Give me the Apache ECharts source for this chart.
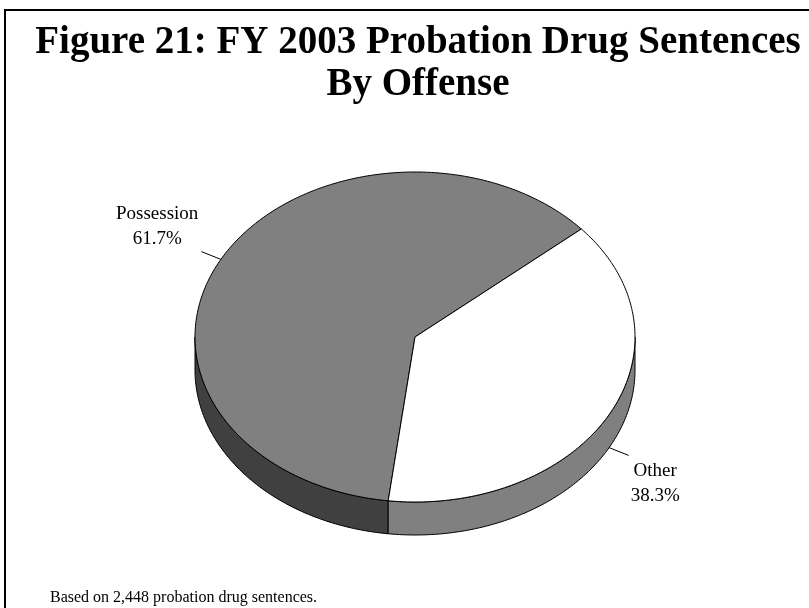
<!DOCTYPE html>
<html>
<head>
<meta charset="utf-8">
<script src="https://cdn.jsdelivr.net/npm/echarts@6/dist/echarts.min.js"></script>
<style>
  html, body { margin: 0; padding: 0; background: #fff; }
  #chart { width: 809px; height: 608px; }
</style>
</head>
<body>
<div id="chart"></div>
<script>
// ---- data ----
const categories = ['Possession', 'Other'];
const values = [61.7, 38.3];
const percentLabels = ['61.7%', '38.3%'];
const titleText = 'Figure 21: FY 2003 Probation Drug Sentences\nBy Offense';
const footnote = 'Based on 2,448 probation drug sentences.';

// ---- style / layout ----
const topColors = ['#808080', '#ffffff'];
const sideColors = ['#404040', '#808080'];
const startAngle = 97;       // degrees, clockwise from 3 o'clock (screen)
const CX = 415, CY = 337, RX = 220, RY = 165, DEPTH = 33;
const labelFont = '19px "Liberation Serif", "Times New Roman", serif';
const labelLineH = 25;

const total = values.reduce((a, b) => a + b, 0);
const measureCtx = document.createElement('canvas').getContext('2d');
function textWidth(s, font) { measureCtx.font = font; return measureCtx.measureText(s).width; }

function pt(angDeg, dy) {
  const t = angDeg * Math.PI / 180;
  return [CX + RX * Math.cos(t), CY + RY * Math.sin(t) + (dy || 0)];
}
function arc(a, b, dy) {
  const pts = [];
  const n = Math.max(2, Math.ceil(Math.abs(b - a)));
  for (let i = 0; i <= n; i++) pts.push(pt(a + (b - a) * i / n, dy));
  return pts;
}

function renderItem(params, api) {
  const idx = params.dataIndex;
  let before = 0;
  for (let i = 0; i < idx; i++) before += values[i];
  const v = api.value(0);
  const a = startAngle + before / total * 360;
  const b = a + v / total * 360;
  const children = [];
  const lineStyle = { stroke: '#000', lineWidth: 1 };

  // visible side wall (front half: 0..180 and 360..540)
  [[0, 180], [360, 540]].forEach(([lo, hi]) => {
    const s = Math.max(a, lo), e = Math.min(b, hi);
    if (e > s) {
      const pts = arc(s, e, 0).concat(arc(e, s, DEPTH));
      children.push({
        type: 'polygon',
        shape: { points: pts },
        style: Object.assign({ fill: sideColors[idx] }, lineStyle)
      });
    }
  });

  // top face
  const topPts = [[CX, CY]].concat(arc(a, b, 0));
  children.push({
    type: 'polygon',
    shape: { points: topPts },
    style: Object.assign({ fill: topColors[idx] }, lineStyle)
  });

  // label + leader line
  const mid = (a + b) / 2;
  const t = mid * Math.PI / 180;
  const c = Math.cos(t), s = Math.sin(t);
  const start = pt(mid, s > 0 ? DEPTH : 0);
  let dx = c, dy = s * RY / RX;
  const len = Math.hypot(dx, dy);
  dx = dx / len * 21; dy = dy / len * 21;
  const end = [start[0] + dx, start[1] + dy];
  children.push({
    type: 'line',
    shape: { x1: start[0], y1: start[1], x2: end[0], y2: end[1] },
    style: { stroke: '#000', lineWidth: 1 }
  });
  const lines = [categories[idx], percentLabels[idx]];
  const w = Math.max.apply(null, lines.map(l => textWidth(l, labelFont)));
  const blockH = labelLineH * lines.length;
  const cxText = c >= 0 ? end[0] + 2 + w / 2 : end[0] - 3 - w / 2;
  const topY = s > 0 ? end[1] + 3 : end[1] - blockH;
  children.push({
    type: 'text',
    style: {
      text: lines.join('\n'),
      x: cxText,
      y: topY,
      font: labelFont,
      lineHeight: labelLineH,
      fill: '#000',
      align: 'center',
      verticalAlign: 'top'
    }
  });

  return { type: 'group', children: children };
}

const chart = echarts.init(document.getElementById('chart'), null, { renderer: 'canvas' });
chart.setOption({
  backgroundColor: '#ffffff',
  animation: false,
  title: {
    text: titleText,
    left: 413,
    top: 17,
    textAlign: 'center',
    textStyle: {
      fontFamily: '"Liberation Serif", "Times New Roman", serif',
      fontWeight: 'bold',
      fontSize: 39,
      lineHeight: 42,
      color: '#000'
    }
  },
  graphic: [
    {
      type: 'rect',
      shape: { x: 5, y: 10, width: 900, height: 700 },
      style: { fill: 'none', stroke: '#000', lineWidth: 2 },
      z: -1
    },
    {
      type: 'text',
      style: {
        text: footnote,
        x: 50,
        y: 598,
        font: '16px "Liberation Serif", "Times New Roman", serif',
        fill: '#000',
        verticalAlign: 'middle'
      }
    }
  ],
  series: [{
    type: 'custom',
    coordinateSystem: 'none',
    renderItem: renderItem,
    data: values.map((v, i) => ({ name: categories[i], value: [v] }))
  }]
});
</script>
</body>
</html>
